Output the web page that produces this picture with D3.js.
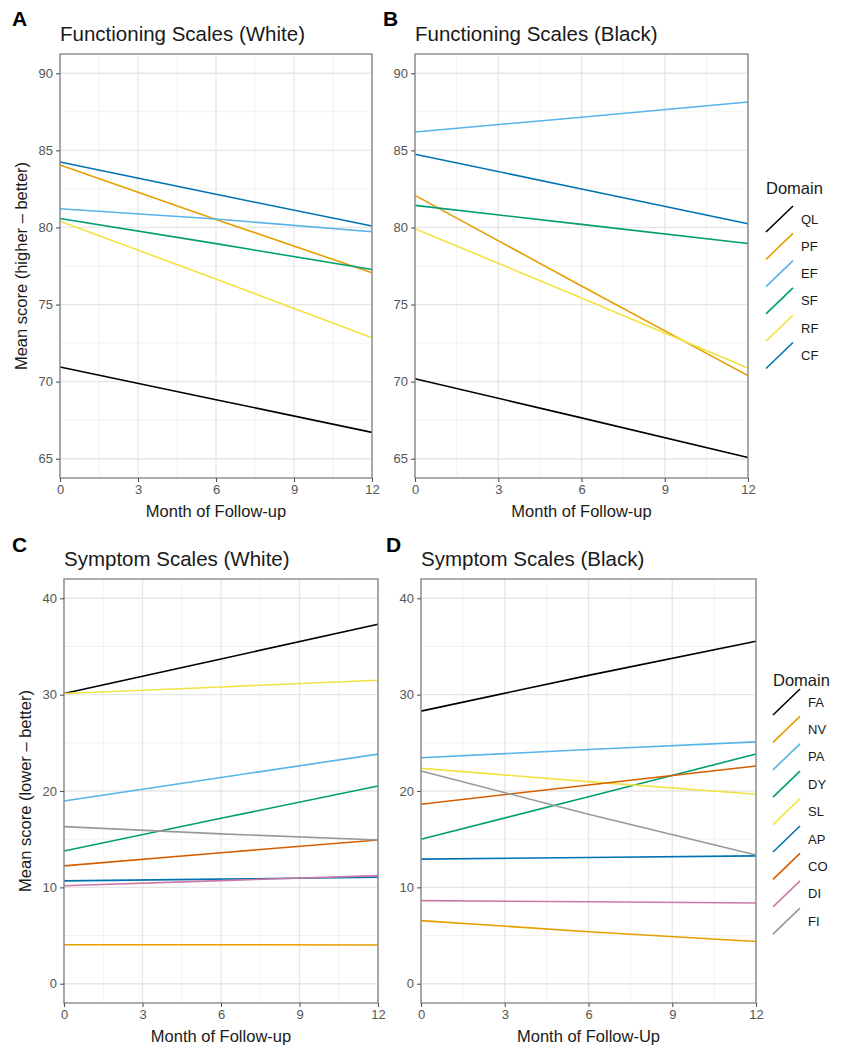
<!DOCTYPE html>
<html>
<head>
<meta charset="utf-8">
<script src="https://cdn.jsdelivr.net/npm/d3@7"></script>
<style>
  html, body { margin: 0; padding: 0; background: #ffffff; }
  svg { display: block; font-family: "Liberation Sans", Arial, Helvetica, sans-serif; }
</style>
</head>
<body>
<svg id="chart" width="841" height="1050"></svg>
<script>
// ---------- DATA ----------
const months = [0, 6, 12];
const monthTicks = [0, 3, 6, 9, 12];

const funcDomains = ["QL", "PF", "EF", "SF", "RF", "CF"];
const funcColors  = ["#000000", "#E69F00", "#56B4E9", "#009E73", "#F0E442", "#0072B2"];
const funcTicks   = [65, 70, 75, 80, 85, 90];

const funcWhite = {
  QL: [70.95, 68.83, 66.71],
  PF: [84.05, 80.52, 77.06],
  EF: [81.21, 80.55, 79.72],
  SF: [80.58, 78.95, 77.27],
  RF: [80.41, 76.65, 72.84],
  CF: [84.24, 82.15, 80.09]
};
const funcBlack = {
  QL: [70.19, 67.65, 65.08],
  PF: [82.08, 76.20, 70.39],
  EF: [86.19, 87.15, 88.14],
  SF: [81.43, 80.20, 78.96],
  RF: [79.92, 75.43, 70.89],
  CF: [84.75, 82.50, 80.24]
};

const symDomains = ["FA", "NV", "PA", "DY", "SL", "AP", "CO", "DI", "FI"];
const symColors  = ["#000000", "#E69F00", "#56B4E9", "#009E73", "#F0E442", "#0072B2", "#D55E00", "#CC79A7", "#999999"];
const symTicks   = [0, 10, 20, 30, 40];

const symWhite = {
  FA: [30.12, 33.70, 37.30],
  NV: [4.05, 4.05, 4.02],
  PA: [18.96, 21.40, 23.83],
  DY: [13.78, 17.17, 20.52],
  SL: [30.12, 30.80, 31.50],
  AP: [10.67, 10.85, 11.06],
  CO: [12.23, 13.60, 14.92],
  DI: [10.16, 10.70, 11.22],
  FI: [16.30, 15.55, 14.92]
};
const symBlack = {
  FA: [28.29, 32.00, 35.54],
  NV: [6.55, 5.40, 4.38],
  PA: [23.45, 24.30, 25.10],
  DY: [15.00, 19.41, 23.83],
  SL: [22.35, 20.97, 19.66],
  AP: [12.93, 13.10, 13.27],
  CO: [18.62, 20.62, 22.59],
  DI: [8.62, 8.50, 8.38],
  FI: [22.07, 17.58, 13.35]
};

// ---------- DRAWING ----------
const svg = d3.select("#chart");

function expand(lo, hi, f) { const s = (hi - lo) * f; return [lo - s, hi + s]; }

function panel(opt) {
  const g = svg.append("g");
  const x = d3.scaleLinear().domain([0, 12]).range([opt.x0, opt.x1]);
  const y = d3.scaleLinear().domain(opt.yDomain).range([opt.y1, opt.y0]);

  // grid minor
  const minorX = [1.5, 4.5, 7.5, 10.5];
  const step = opt.ticks[1] - opt.ticks[0];
  const minorY = opt.ticks.map(t => t + step / 2).concat([opt.ticks[0] - step / 2])
    .filter(v => v > opt.yDomain[0] && v < opt.yDomain[1]);
  g.selectAll(".mx").data(minorX).join("line")
    .attr("x1", d => x(d)).attr("x2", d => x(d)).attr("y1", opt.y0).attr("y2", opt.y1)
    .attr("stroke", "#f2f2f2").attr("stroke-width", 1);
  g.selectAll(".my").data(minorY).join("line")
    .attr("y1", d => y(d)).attr("y2", d => y(d)).attr("x1", opt.x0).attr("x2", opt.x1)
    .attr("stroke", "#f2f2f2").attr("stroke-width", 1);
  // grid major
  g.selectAll(".Mx").data(monthTicks).join("line")
    .attr("x1", d => x(d)).attr("x2", d => x(d)).attr("y1", opt.y0).attr("y2", opt.y1)
    .attr("stroke", "#e6e6e6").attr("stroke-width", 1.3);
  g.selectAll(".My").data(opt.ticks).join("line")
    .attr("y1", d => y(d)).attr("y2", d => y(d)).attr("x1", opt.x0).attr("x2", opt.x1)
    .attr("stroke", "#e6e6e6").attr("stroke-width", 1.3);

  // series
  const line = d3.line().x(d => x(d[0])).y(d => y(d[1]));
  opt.domains.forEach((k, i) => {
    const pts = months.map((m, j) => [m, opt.data[k][j]]);
    g.append("path").attr("d", line(pts)).attr("fill", "none")
      .attr("stroke", opt.colors[i]).attr("stroke-width", 1.6);
  });

  // border
  g.append("rect").attr("x", opt.x0).attr("y", opt.y0)
    .attr("width", opt.x1 - opt.x0).attr("height", opt.y1 - opt.y0)
    .attr("fill", "none").attr("stroke", "#8a8a8a").attr("stroke-width", 1.4);

  // axes
  const ax = g.append("g").attr("transform", `translate(0,${opt.y1})`)
    .call(d3.axisBottom(x).tickValues(monthTicks).tickSize(4).tickPadding(3));
  const ay = g.append("g").attr("transform", `translate(${opt.x0},0)`)
    .call(d3.axisLeft(y).tickValues(opt.ticks).tickSize(4).tickPadding(3));
  [ax, ay].forEach(a => {
    a.select(".domain").remove();
    a.selectAll(".tick line").attr("stroke", "#555").attr("stroke-width", 1.1);
    a.selectAll(".tick text").attr("fill", "#555").style("font-size", "13px")
      .style("font-family", '"Liberation Sans", Arial, sans-serif');
  });

  // titles
  g.append("text").attr("x", opt.labelX).attr("y", opt.labelY).text(opt.letter)
    .style("font-size", "21px").style("font-weight", "bold").attr("fill", "#000");
  g.append("text").attr("x", opt.x0).attr("y", opt.titleY).text(opt.title)
    .style("font-size", "20.5px").attr("fill", "#1a1a1a");
  g.append("text").attr("x", (opt.x0 + opt.x1) / 2).attr("y", opt.y1 + 39)
    .attr("text-anchor", "middle").text(opt.xTitle)
    .style("font-size", "16.5px").attr("fill", "#1a1a1a");
  if (opt.yTitle) {
    g.append("text")
      .attr("transform", `translate(${opt.x0 - 33},${(opt.y0 + opt.y1) / 2}) rotate(-90)`)
      .attr("text-anchor", "middle").text(opt.yTitle)
      .style("font-size", "16.5px").attr("fill", "#1a1a1a");
  }
}

function legend(x0, titleY, firstY, step, domains, colors) {
  const g = svg.append("g");
  g.append("text").attr("x", x0).attr("y", titleY + 6).text("Domain")
    .style("font-size", "16.5px").attr("fill", "#1a1a1a");
  domains.forEach((d, i) => {
    const cy = firstY + i * step;
    g.append("line").attr("x1", x0).attr("y1", cy + 13).attr("x2", x0 + 27).attr("y2", cy - 13)
      .attr("stroke", colors[i]).attr("stroke-width", 1.6);
    g.append("text").attr("x", x0 + 35).attr("y", cy + 4.5).text(d)
      .style("font-size", "13px").attr("fill", "#1a1a1a");
  });
}

const funcY = expand(65, 90, 0.05);
const symY = expand(0, 40, 0.05);

panel({ x0: 60, x1: 372, y0: 54, y1: 478, yDomain: funcY, ticks: funcTicks,
  domains: funcDomains, colors: funcColors, data: funcWhite,
  letter: "A", labelX: 12, labelY: 26, title: "Functioning Scales (White)", titleY: 41,
  xTitle: "Month of Follow-up", yTitle: "Mean score (higher \u2013 better)" });
panel({ x0: 415, x1: 748, y0: 54, y1: 478, yDomain: funcY, ticks: funcTicks,
  domains: funcDomains, colors: funcColors, data: funcBlack,
  letter: "B", labelX: 383, labelY: 26, title: "Functioning Scales (Black)", titleY: 41,
  xTitle: "Month of Follow-up", yTitle: null });
panel({ x0: 64, x1: 378, y0: 579, y1: 1003, yDomain: symY, ticks: symTicks,
  domains: symDomains, colors: symColors, data: symWhite,
  letter: "C", labelX: 12, labelY: 552, title: "Symptom Scales (White)", titleY: 566,
  xTitle: "Month of Follow-up", yTitle: "Mean score (lower \u2013 better)" });
panel({ x0: 421, x1: 756, y0: 579, y1: 1003, yDomain: symY, ticks: symTicks,
  domains: symDomains, colors: symColors, data: symBlack,
  letter: "D", labelX: 386, labelY: 552, title: "Symptom Scales (Black)", titleY: 566,
  xTitle: "Month of Follow-Up", yTitle: null });

legend(766, 188, 219, 27.3, funcDomains, funcColors);
legend(773, 680, 702, 27.4, symDomains, symColors);
</script>
</body>
</html>
